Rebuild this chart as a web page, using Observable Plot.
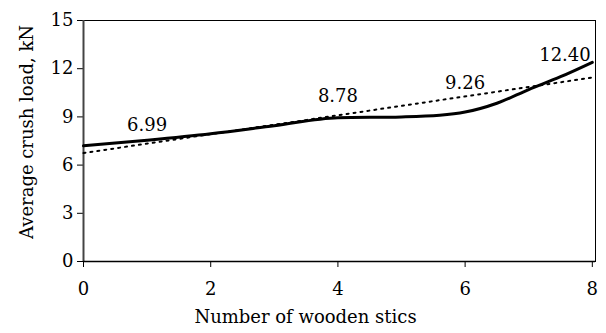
<!DOCTYPE html>
<html>
<head>
<meta charset="utf-8">
<script src="https://cdn.jsdelivr.net/npm/d3@7"></script>
<script src="https://cdn.jsdelivr.net/npm/@observablehq/plot@0.6"></script>
<style>
  html, body { margin: 0; padding: 0; background: #fff; }
  #chart { width: 606px; height: 333px; }
</style>
</head>
<body>
<div id="chart"></div>
<script>
// ---- data ----
const xTicks = [0, 2, 4, 6, 8];
const yTicks = [0, 3, 6, 9, 12, 15];
// measured curve (solid line)
const loadX = [0, 1, 2, 3, 4, 5, 5.6, 6, 6.5, 7, 7.5, 8];
const loadY = [7.2, 7.55, 7.95, 8.45, 8.95, 9.0, 9.1, 9.3, 9.85, 10.7, 11.5, 12.4];
// linear trend (dotted line)
const trendX = [0, 8];
const trendY = [6.75, 11.45];
// value labels
const labelText = ["6.99", "8.78", "9.26", "12.40"];
const labelX = [1, 4, 6, 7.57];
const labelY = [8.1, 9.9, 10.75, 12.5];
const xTitle = "Number of wooden stics";
const yTitle = "Average crush load, kN";

const curve = loadX.map((x, i) => ({x, y: loadY[i]}));
const trend = trendX.map((x, i) => ({x, y: trendY[i]}));
const labels = labelText.map((t, i) => ({t, x: labelX[i], y: labelY[i]}));

const chart = Plot.plot({
  width: 606,
  height: 333,
  marginLeft: 83,
  marginRight: 11,
  marginTop: 20,
  marginBottom: 72,
  style: {fontFamily: "DejaVu Serif", fontSize: "18px", color: "#000", background: "#fff"},
  x: {domain: [0, 8.05]},
  y: {domain: [0, 15]},
  marks: [
    Plot.frame({stroke: "#000", strokeWidth: 1}),
    Plot.axisY({ticks: yTicks, tickSize: 6, tickPadding: 4, label: null, stroke: "#000"}),
    Plot.axisX({ticks: xTicks, tickSize: 6, tickPadding: 15, label: null, stroke: "#000"}),
    Plot.ruleX([0], {stroke: "#444", strokeWidth: 2}),
    Plot.ruleY([0], {stroke: "#000", strokeWidth: 1.5}),
    Plot.line(trend, {x: "x", y: "y", stroke: "#000", strokeWidth: 2, strokeDasharray: "2,5"}),
    Plot.line(curve, {x: "x", y: "y", stroke: "#000", strokeWidth: 3, curve: "monotone-x"}),
    Plot.text(labels, {x: "x", y: "y", text: "t", lineAnchor: "bottom", fill: "#000"}),
    Plot.text([xTitle], {frameAnchor: "bottom", text: d => d, textAnchor: "middle", dx: -34, dy: 61, fill: "#000"}),
    Plot.text([yTitle], {frameAnchor: "left", text: d => d, textAnchor: "middle", rotate: -90, dx: -56, dy: -9, fill: "#000"})
  ]
});
document.getElementById("chart").appendChild(chart);
</script>
</body>
</html>
